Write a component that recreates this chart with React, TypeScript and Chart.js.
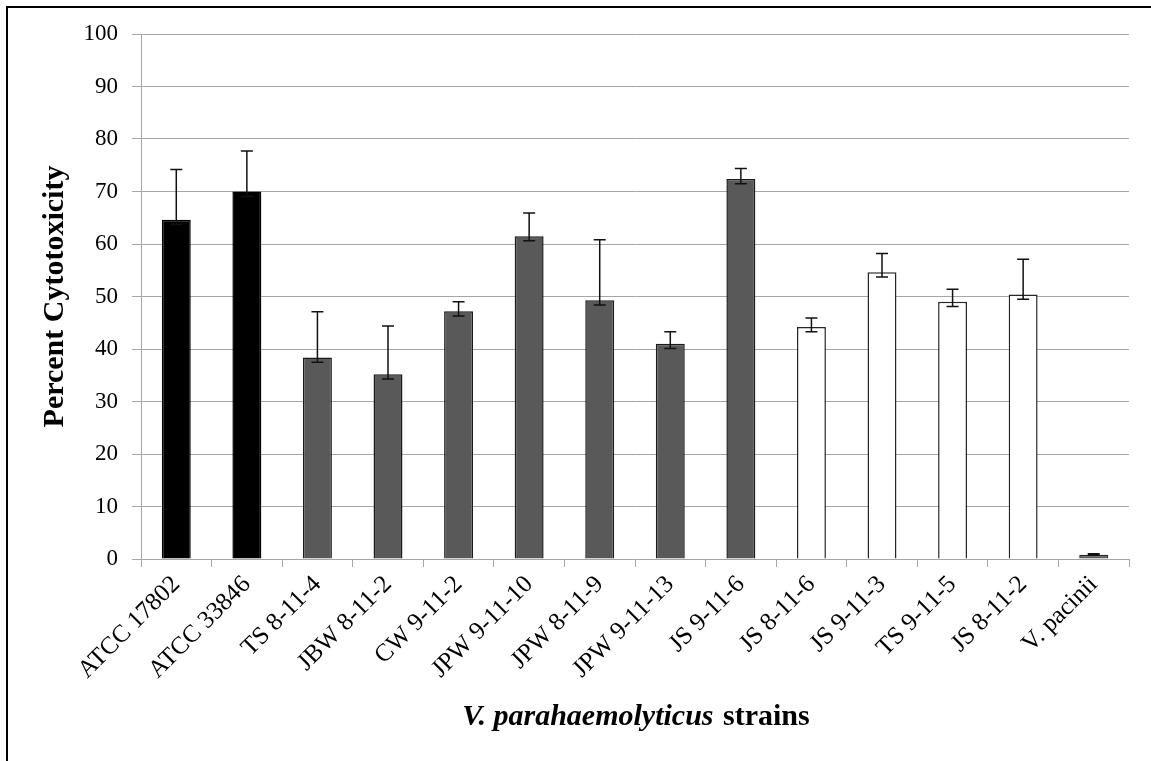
import React, { useEffect, useRef } from "react";
import { Chart, registerables } from "chart.js";

Chart.register(...registerables);

const categories = [
  "ATCC 17802",
  "ATCC 33846",
  "TS 8-11-4",
  "JBW 8-11-2",
  "CW 9-11-2",
  "JPW 9-11-10",
  "JPW 8-11-9",
  "JPW 9-11-13",
  "JS 9-11-6",
  "JS 8-11-6",
  "JS 9-11-3",
  "TS 9-11-5",
  "JS 8-11-2",
  "V. pacinii",
];

const groups = [
  "reference",
  "reference",
  "groupA",
  "groupA",
  "groupA",
  "groupA",
  "groupA",
  "groupA",
  "groupA",
  "groupB",
  "groupB",
  "groupB",
  "groupB",
  "control",
];

const values = [64.6, 70.0, 38.4, 35.2, 47.2, 61.5, 49.3, 41.0, 72.4, 44.2, 54.6, 49.0, 50.4, 0.8];
const errorUp = [9.6, 7.7, 8.7, 9.2, 1.8, 4.4, 11.5, 2.3, 2.0, 1.7, 3.6, 2.4, 6.7, 0.2];
const errorDown = [0.9, 0.9, 0.9, 0.9, 0.9, 0.9, 0.9, 0.9, 0.9, 0.9, 0.9, 0.9, 0.9, 0.1];

const yTicks = [0, 10, 20, 30, 40, 50, 60, 70, 80, 90, 100];

const yTitle = "Percent Cytotoxicity";
const xTitleItalic = "V. parahaemolyticus";
const xTitleRest = " strains";

const FONT = "'Liberation Serif', 'Times New Roman', serif";

const fillFor: Record<string, string> = {
  reference: "#000000",
  groupA: "#595959",
  groupB: "#ffffff",
  control: "#595959",
};
const borderFor: Record<string, string> = {
  reference: "#000000",
  groupA: "#1a1a1a",
  groupB: "#262626",
  control: "#262626",
};

const errorBarPlugin = {
  id: "errorBars",
  afterDatasetsDraw(chart: any) {
    const meta = chart.getDatasetMeta(0);
    const y = chart.scales.y;
    const ctx = chart.ctx;
    ctx.save();
    ctx.strokeStyle = "#111111";
    ctx.lineWidth = 1.5;
    meta.data.forEach((bar: any, i: number) => {
      const x = bar.x;
      const top = y.getPixelForValue(values[i] + errorUp[i]);
      const bottom = y.getPixelForValue(values[i] - errorDown[i]);
      const half = 6;
      ctx.beginPath();
      ctx.moveTo(x, top);
      ctx.lineTo(x, bottom);
      ctx.moveTo(x - half, top);
      ctx.lineTo(x + half, top);
      ctx.moveTo(x - half, bottom);
      ctx.lineTo(x + half, bottom);
      ctx.stroke();
    });
    ctx.restore();
  },
};

const titlesPlugin = {
  id: "titles",
  afterDraw(chart: any) {
    const ctx = chart.ctx;
    const area = chart.chartArea;
    ctx.save();
    ctx.fillStyle = "#000000";
    ctx.font = `bold 30px ${FONT}`;
    ctx.translate(63, (area.top + area.bottom) / 2);
    ctx.rotate(-Math.PI / 2);
    ctx.textAlign = "center";
    ctx.textBaseline = "alphabetic";
    ctx.fillText(yTitle, 0, 0);
    ctx.restore();

    ctx.save();
    ctx.fillStyle = "#000000";
    ctx.textBaseline = "alphabetic";
    ctx.textAlign = "left";
    const italicFont = `italic bold 30px ${FONT}`;
    const boldFont = `bold 30px ${FONT}`;
    ctx.font = italicFont;
    const w1 = ctx.measureText(xTitleItalic).width;
    ctx.font = boldFont;
    const w2 = ctx.measureText(xTitleRest).width;
    const cx = (area.left + area.right) / 2;
    const start = cx - (w1 + w2) / 2;
    const baseline = 725;
    ctx.font = italicFont;
    ctx.fillText(xTitleItalic, start, baseline);
    ctx.font = boldFont;
    ctx.fillText(xTitleRest, start + w1 + 2, baseline);
    ctx.restore();
  },
};

export default function App() {
  const canvasRef = useRef<HTMLCanvasElement | null>(null);

  useEffect(() => {
    const canvas = canvasRef.current;
    if (!canvas) return;
    const chart = new Chart(canvas, {
      type: "bar",
      data: {
        labels: categories,
        datasets: [
          {
            data: values,
            backgroundColor: groups.map((g) => fillFor[g]),
            borderColor: groups.map((g) => borderFor[g]),
            borderWidth: 1.5,
            barPercentage: 0.41,
            categoryPercentage: 1,
          },
        ],
      },
      options: {
        responsive: false,
        animation: false,
        devicePixelRatio: 1,
        layout: { padding: { top: 34, right: 22, left: 0, bottom: 0 } },
        plugins: {
          legend: { display: false },
          tooltip: { enabled: false },
          title: { display: false },
        },
        scales: {
          x: {
            offset: true,
            grid: {
              display: true,
              drawOnChartArea: false,
              drawTicks: true,
              tickLength: 8,
              color: "#a6a6a6",
              offset: true,
            },
            border: { display: true, color: "#a6a6a6", width: 1 },
            ticks: {
              autoSkip: false,
              maxRotation: 45,
              minRotation: 45,
              color: "#000000",
              padding: 3,
              font: { family: FONT, size: 25 },
            },
            afterFit(scale: any) {
              scale.height = 202;
            },
          },
          y: {
            min: 0,
            max: 100,
            afterBuildTicks(scale: any) {
              scale.ticks = yTicks.map((v) => ({ value: v }));
            },
            grid: {
              color: "#a6a6a6",
              tickLength: 9,
              drawTicks: true,
            },
            border: { display: true, color: "#a6a6a6", width: 1 },
            ticks: {
              color: "#000000",
              padding: 14,
              font: { family: FONT, size: 23 },
            },
            afterFit(scale: any) {
              scale.width = 141;
            },
          },
        },
      },
      plugins: [errorBarPlugin, titlesPlugin],
    });
    return () => chart.destroy();
  }, []);

  return (
    <div style={{ position: "absolute", left: 0, top: 0, width: 1151, height: 761, background: "#ffffff", overflow: "hidden" }}>
      <div
        style={{
          position: "absolute",
          left: 6,
          top: 6,
          right: 0,
          bottom: 0,
          borderLeft: "2px solid #000",
          borderTop: "2px solid #000",
        }}
      />
      <canvas ref={canvasRef} width={1151} height={761} style={{ position: "absolute", left: 0, top: 0 }} />
    </div>
  );
}
